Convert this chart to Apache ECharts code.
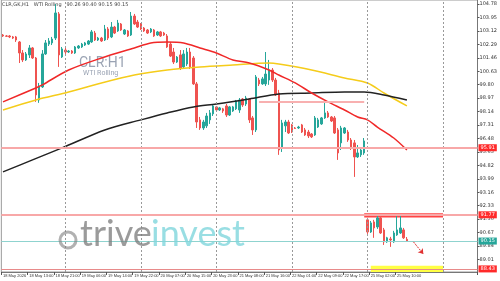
<!DOCTYPE html>
<html><head><meta charset="utf-8">
<script src="https://cdn.jsdelivr.net/npm/echarts@6/dist/echarts.min.js"></script>
<style>html,body{margin:0;padding:0;background:#fff}#c{width:500px;height:281px}</style>
</head><body><div id="c"></div><script>
// hourly sessions: [day, first hour, last hour]
const sessions = [['18 May',5,23],['19 May',1,23],['20 May',1,23],['21 May',1,23],['22 May',1,23],['25 May',1,23],['26 May',1,11]];
const tickValues = [89.01,89.84,90.67,91.50,92.33,93.16,93.99,94.82,95.65,96.48,97.31,98.14,98.97,99.80,100.63,101.46,102.29,103.12,103.95,104.78];

const open = [102.87,102.81,102.81,102.75,102.75,102.44,101.76,101.33,101.64,102.07,
101.45,98.86,99.66,101.70,102.31,102.38,102.68,104.17,101.51,101.94,
101.82,101.88,101.76,102.07,102.13,102.25,102.31,102.44,102.99,102.56,
102.68,102.56,103.24,102.75,103.36,103.12,103.55,102.93,103.12,102.87,
104.04,103.67,103.55,103.30,103.18,103.06,103.18,102.87,103.06,102.99,
102.81,102.31,101.82,101.20,101.64,100.90,101.08,101.82,101.45,99.85,
97.63,97.13,97.26,97.63,98.00,98.43,98.24,98.31,98.49,97.93,
98.18,98.31,98.24,98.92,98.61,98.92,97.75,97.01,100.09,99.85,
99.85,100.09,100.71,100.09,99.29,95.90,97.26,97.50,97.32,97.13,
97.13,97.32,97.01,96.88,96.76,96.70,97.19,97.38,97.75,98.06,
97.81,97.75,97.01,96.21,96.82,96.88,96.39,96.21,95.34,95.47,
95.59,91.46,90.71,91.33,91.02,91.58,90.84,90.10,90.28,90.10,
90.53,90.65,90.84,90.26];
const close = [102.81,102.79,102.75,102.68,102.56,101.76,101.33,101.70,102.07,101.45,
99.17,99.72,101.70,102.38,102.50,102.62,104.23,101.64,102.01,101.82,
101.88,101.76,102.13,102.19,102.31,102.38,102.50,103.06,102.56,102.68,
102.50,103.24,102.68,103.36,102.99,103.61,103.18,103.18,102.81,104.04,
103.55,103.36,103.24,103.12,102.99,103.24,102.81,103.06,102.81,102.87,
102.13,101.57,101.20,101.51,100.83,101.70,101.82,100.90,99.85,97.50,
97.13,97.50,97.87,98.06,98.49,98.24,98.37,98.18,97.93,98.43,
98.43,98.80,98.86,98.55,98.98,97.63,97.01,100.28,99.85,100.16,
100.46,100.71,100.09,99.17,95.77,97.44,97.50,96.82,96.88,97.10,
97.19,96.88,96.70,96.64,96.58,97.75,97.63,97.75,98.06,97.81,
97.56,96.82,95.59,97.13,97.13,96.39,95.96,95.34,95.59,95.77,
96.33,90.71,91.27,90.96,91.58,90.65,90.10,90.35,90.22,90.65,
90.84,90.96,90.35,90.15];
const high = [102.93,102.87,102.87,102.81,102.81,102.50,101.94,101.82,102.25,102.13,
101.51,99.91,101.94,102.56,102.68,102.75,104.78,104.29,102.13,102.07,
101.94,101.94,102.19,102.25,102.38,102.44,102.56,103.18,103.12,102.75,
102.75,103.49,103.36,103.67,103.43,103.80,103.61,103.24,103.18,104.29,
104.17,103.80,103.61,103.36,103.24,103.30,103.24,103.12,103.12,103.06,
102.93,102.44,102.07,101.57,101.94,101.94,102.07,102.07,101.57,99.97,
97.81,97.63,98.06,98.24,98.61,98.49,98.43,98.37,98.61,98.49,
98.49,98.86,98.98,98.98,99.11,98.98,97.87,100.40,100.22,100.28,
101.82,101.33,100.83,100.22,99.48,97.63,97.63,97.63,97.38,97.19,
97.26,97.38,97.13,97.01,96.82,97.87,97.75,97.81,98.74,98.18,
97.87,97.87,97.13,97.26,97.19,97.01,96.51,96.39,96.08,95.90,
96.51,91.58,91.39,91.46,91.70,91.70,90.96,90.41,90.41,90.78,
91.76,91.70,90.96,90.40];
const low = [102.75,102.75,102.68,102.62,102.44,101.14,101.20,101.27,101.45,101.39,
98.74,98.68,99.60,101.64,102.19,102.25,102.56,100.90,101.45,101.70,
101.76,101.70,101.70,102.01,102.07,102.19,102.25,102.38,102.50,102.50,
102.44,102.50,102.56,102.68,102.93,103.06,103.12,102.87,102.75,102.81,
103.49,103.30,103.18,103.06,102.93,102.99,102.75,102.81,102.75,102.81,
102.07,101.51,101.08,101.14,100.71,100.83,100.96,100.77,99.79,97.13,
97.01,97.01,97.13,97.38,97.87,98.18,98.18,98.06,97.81,97.87,
98.12,98.24,98.06,98.43,98.49,97.44,96.70,96.88,99.72,99.79,
99.72,99.79,99.97,99.11,95.47,95.65,96.88,96.76,96.82,97.07,
97.07,96.82,96.64,96.51,96.51,96.64,97.13,97.32,97.69,97.75,
97.50,96.76,95.16,95.77,96.76,96.27,95.77,94.11,95.28,95.34,
95.47,90.59,90.65,90.35,90.90,90.59,89.91,90.04,89.79,90.04,
90.47,90.59,90.28,90.15];

// moving averages: [bar index, price]
const maRed = [[0,98.74],[10,99.60],[12,99.79],[20,100.71],[30,101.45],[40,102.07],[45,102.38],[50,102.44],[55,102.38],[60,102.07],[65,101.76],[70,101.33],[75,101.14],[81,100.71],[84,100.40],[89,99.91],[94,99.29],[99,98.74],[104,98.24],[108,97.81],[111,97.63],[114,97.19],[119,96.51],[123,95.77]];
const maYellow = [[0,98.24],[10,98.86],[20,99.35],[30,99.91],[40,100.40],[50,100.71],[60,100.90],[70,101.02],[81,101.14],[84,101.08],[94,100.71],[104,100.22],[111,99.91],[116,99.29],[123,98.49]];
const maBlack = [[0,94.42],[9,95.16],[18,95.90],[31,97.01],[42,97.63],[50,98.06],[58,98.43],[65,98.61],[75,98.92],[84,99.23],[94,99.29],[104,99.35],[110,99.35],[116,99.17],[123,98.86]];

const levels = {upper:95.91, resist:91.77, bid:90.15, bottom:88.43, mid:98.77};
const daySeparators = [19,42,65,88,111,134];

const categories = [];
sessions.forEach(([d,h0,h1]) => { for (let h=h0; h<=h1; h++) categories.push(d + ' ' + String(h).padStart(2,'0') + ':00'); });
const candles = open.map((o,i) => [o, close[i], low[i], high[i]]);
const showLabel = (i) => i % 8 === 0 && i <= 123;

const tag = (bg) => ({show:true, position:'end', distance:1, formatter:p=>p.value.toFixed(2), backgroundColor:bg, color:'#fff', fontSize:5, padding:[1,2], fontFamily:'DejaVu Sans'});

const chart = echarts.init(document.getElementById('c'), null, {renderer:'canvas'});
chart.setOption({
  animation:false,
  backgroundColor:'#fff',
  grid:{left:0, right:18, top:0, bottom:9, show:true, borderColor:'#999', borderWidth:1},
  xAxis:{type:'category', data:categories, boundaryGap:true,
    axisLine:{show:true, lineStyle:{color:'#777'}},
    axisTick:{show:true, length:3, interval:showLabel, lineStyle:{color:'#555'}},
    axisLabel:{show:true, interval:showLabel, hideOverlap:false, showMinLabel:true, showMaxLabel:true, align:'left', margin:2, fontSize:4, color:'#333', fontFamily:'Liberation Sans',
      formatter:(v,i)=> i===0 ? '18 May 2026' : v},
    splitLine:{show:false}},
  yAxis:{type:'value', position:'right', min:88.24, max:105.03, scale:true,
    axisLine:{show:true, lineStyle:{color:'#777'}},
    axisTick:{show:true, length:2, customValues:tickValues, lineStyle:{color:'#555'}},
    axisLabel:{show:true, customValues:tickValues, margin:2, fontSize:5, color:'#333', fontFamily:'DejaVu Sans', formatter:v=>v.toFixed(2)},
    splitLine:{show:false}},
  graphic:[
    {type:'text', left:2, top:2, style:{text:'CLR,GK,H1   WTI Rolling   90.26 90.40 90.15 90.15', font:'5px DejaVu Sans', fill:'#444'}},
    {type:'text', left:79, top:56, style:{text:'CLR:H1', font:'14px Roboto', fill:'#9aa3b3'}},
    {type:'text', left:83, top:70, style:{text:'WTI Rolling', font:'7px Roboto', fill:'#9aa3b3'}},
    {type:'circle', shape:{cx:68, cy:240, r:8}, style:{fill:'none', stroke:'#7d7d7d', lineWidth:3, opacity:0.6}, z:50},
    {type:'text', left:80, top:216, style:{text:'trive', font:'36px Lato', fill:'#7a7a7a', opacity:0.75}, z:50},
    {type:'text', left:151, top:216, style:{text:'invest', font:'36px Lato', fill:'#7fd6dc', opacity:0.8}, z:50}
  ],
  series:[
    {type:'candlestick', data:candles, barWidth:2,
      itemStyle:{color:'#26a69a', color0:'#ef5350', borderColor:'#26a69a', borderColor0:'#ef5350', borderWidth:1},
      markLine:{silent:true, symbol:'none', animation:false,
        data:[
          ...daySeparators.map(i=>({xAxis:i, lineStyle:{color:'#999', type:[2,2], width:1}, label:{show:false}})),
          {yAxis:levels.upper, lineStyle:{color:'#f8a8a8', width:2, type:'solid'}, label:tag('#ff2a2a')},
          {yAxis:levels.resist, lineStyle:{color:'#f8a8a8', width:2, type:'solid'}, label:tag('#ff2a2a')},
          {yAxis:levels.bid, lineStyle:{color:'#8fd3cf', width:1, type:'solid'}, label:tag('#26a69a')},
          {yAxis:levels.bottom, lineStyle:{color:'#e88a8a', width:1, type:'solid'}, label:tag('#ff2a2a')},
          [{coord:[78, levels.mid]}, {coord:[110, levels.mid], lineStyle:{color:'#f8b0b0', width:2, type:'solid'}, label:{show:false}}],
          [{coord:[125, 90.10], symbol:'none'}, {coord:[128, 89.35], symbol:'arrow', symbolSize:5, lineStyle:{color:'#e03030', width:1, type:[2,1]}, label:{show:false}}]
        ]}
    },
    {type:'line', data:maYellow, showSymbol:false, smooth:0.3, lineStyle:{color:'#f5cc1a', width:1.5}, z:3},
    {type:'line', data:maBlack, showSymbol:false, smooth:0.3, lineStyle:{color:'#222', width:1.5}, z:3},
    {type:'line', data:maRed, showSymbol:false, smooth:0.3, lineStyle:{color:'#f02828', width:1.5}, z:4,
      markArea:{silent:true, data:[
        [{coord:[110, 91.86], itemStyle:{color:'#ff4444', opacity:1}}, {coord:[134, 91.61]}],
        [{coord:[112, 88.62], itemStyle:{color:'#ffff44', opacity:1}}, {coord:[134, 88.24]}]
      ]}}
  ]
});
</script></body></html>
